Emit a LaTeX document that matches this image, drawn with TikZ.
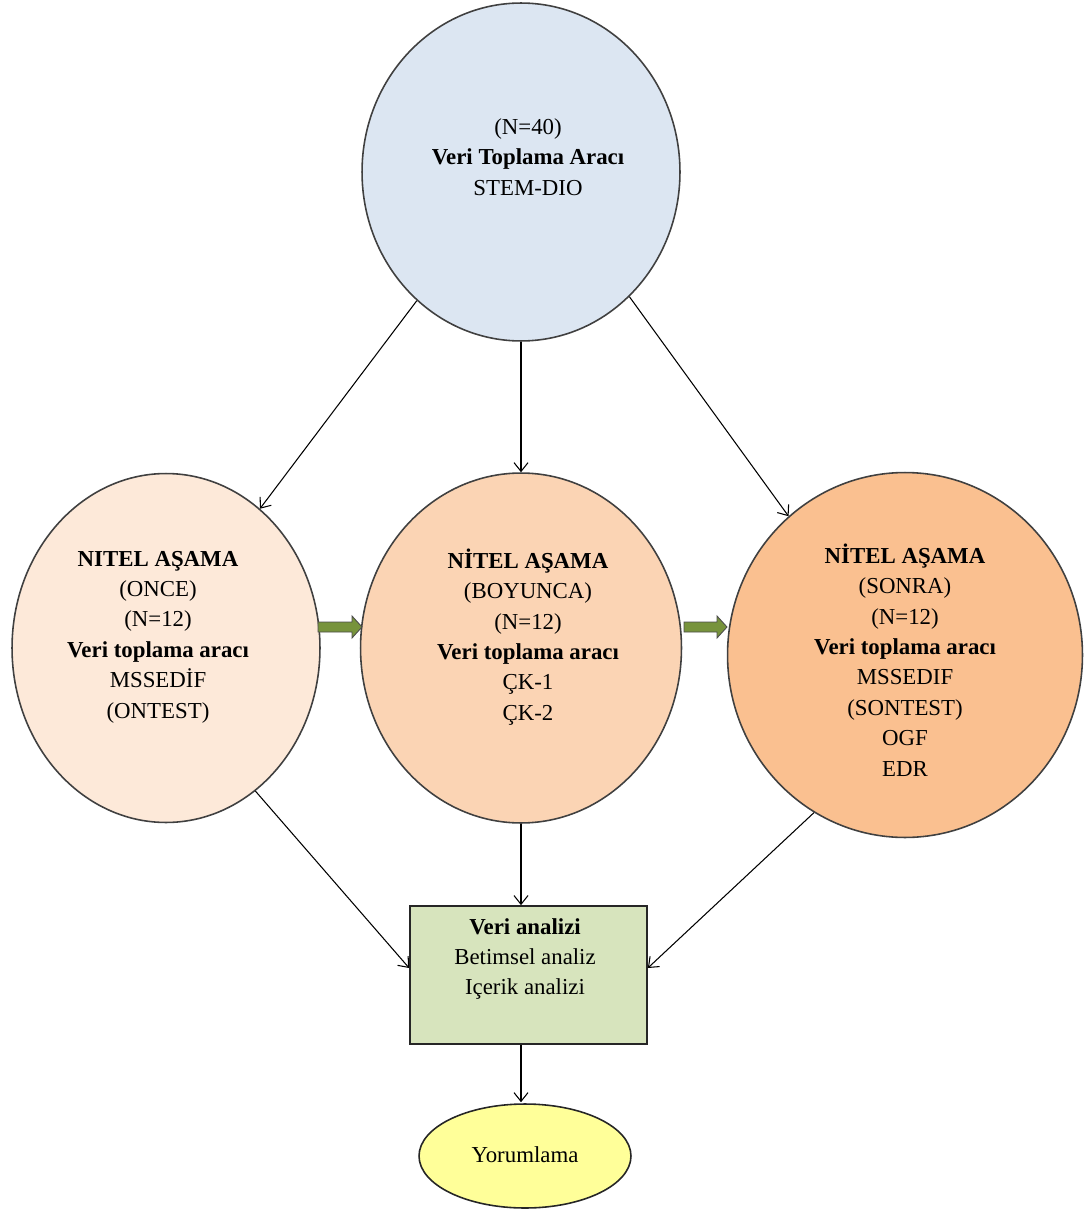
\documentclass[tikz,border=0pt]{standalone}
\usepackage{fontspec}
\setmainfont{Liberation Serif}
\usetikzlibrary{arrows.meta,shapes.geometric}
\definecolor{cTop}{HTML}{DCE6F2}
\definecolor{cLeft}{HTML}{FDE9D9}
\definecolor{cMid}{HTML}{FBD4B4}
\definecolor{cRight}{HTML}{FAC090}
\definecolor{cRect}{HTML}{D7E4BD}
\definecolor{cYor}{HTML}{FFFF99}
\definecolor{cGreen}{HTML}{77933C}
\definecolor{cEdge}{HTML}{404040}
\tikzset{
  blob/.style={ellipse, draw=cEdge, line width=0.9pt, inner sep=0pt},
  txt/.style={align=center, inner sep=0pt, font=\fontsize{13}{17.3}\selectfont},
  conn/.style={draw=black, line width=0.6pt, -{Straight Barb[length=5pt,width=8pt]}},
  fat/.style={fill=cGreen, draw=black!70, line width=0.5pt}
}
\begin{document}
\begin{tikzpicture}[x=0.02cm,y=-0.02cm]
\useasboundingbox (0,0) rectangle (1084,1216);
% shapes
\node[blob, fill=cTop, minimum width=6.36cm, minimum height=6.76cm] (top) at (521,172) {};
\node[blob, fill=cLeft, minimum width=6.16cm, minimum height=6.98cm] (left) at (166,648) {};
\node[blob, fill=cMid, minimum width=6.42cm, minimum height=7.0cm] (mid) at (521,648) {};
\node[blob, fill=cRight, minimum width=7.1cm, minimum height=7.3cm] (right) at (905,655) {};
\node[draw=black!85, line width=1pt, fill=cRect, minimum width=4.74cm, minimum height=2.76cm, inner sep=0pt] (rect) at (528.5,975) {};
\node[ellipse, draw=black!85, line width=0.9pt, fill=cYor, minimum width=4.24cm, minimum height=2.08cm, inner sep=0pt] (yor) at (525,1156) {};
% texts
\node[txt] (ttop) at (528,157) {(N=40)\\\textbf{Veri Toplama Aracı}\\STEM-DIO};
\node[txt] (tleft) at (158,637) {\textbf{NITEL AŞAMA}\\(ONCE)\\(N=12)\\\textbf{Veri toplama aracı}\\MSSEDİF\\(ONTEST)};
\node[txt] (tmid) at (528,637) {\textbf{NİTEL AŞAMA}\\(BOYUNCA)\\(N=12)\\\textbf{Veri toplama aracı}\\ÇK-1\\ÇK-2};
\node[txt] (tright) at (905,660) {\textbf{NİTEL AŞAMA}\\(SONRA)\\(N=12)\\\textbf{Veri toplama aracı}\\MSSEDIF\\(SONTEST)\\OGF\\EDR};
\node[txt] (trect) at (525,959) {\textbf{Veri analizi}\\Betimsel analiz\\Içerik analizi};
\node[txt] (tyor) at (525,1155) {Yorumlama};
% connectors
\draw[conn] (top.231.5) -- (left.56);
\draw[conn] (top.south) -- (mid.north);
\draw[conn] (top.311.2) -- (right.130.5);
\draw[conn] (left.302.6) -- ([yshift=0.14cm]rect.west);
\draw[conn] (mid.south) -- (rect.north -| mid.south);
\draw[conn] (right.240.6) -- ([yshift=0.14cm]rect.east);
\draw[conn] (rect.south -| mid.south) -- ([yshift=0.02cm]yor.north -| mid.south);
% green block arrows
\draw[fat] (318,622) -- (352,622) -- (352,616) -- (362,627) -- (352,638) -- (352,632) -- (318,632) -- cycle;
\draw[fat] (684,622) -- (717,622) -- (717,616) -- (727,627) -- (717,638) -- (717,632) -- (684,632) -- cycle;
\end{tikzpicture}
\end{document}
